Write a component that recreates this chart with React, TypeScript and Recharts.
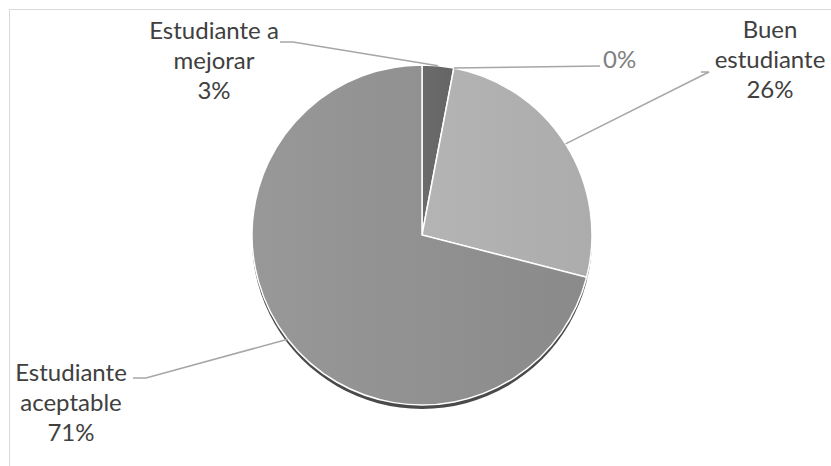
import { PieChart, Pie, Cell } from 'recharts';

// Distribución de estudiantes por categoría
const categories = ['Estudiante a mejorar', '', 'Buen estudiante', 'Estudiante aceptable'];
const values = [3, 0, 26, 71];
const nameLines = [['Estudiante a', 'mejorar'], [], ['Buen', 'estudiante'], ['Estudiante', 'aceptable']];

const sliceFills = ['url(#gDark)', '#8a8a8a', 'url(#gLight)', 'url(#gMid)'];

// where Excel placed each label (text centre / first baseline / leader start)
const labelLayout = [
  { x: 214, y: 39, anchor: 'middle', from: [280, 42], elbow: [293, 42], color: '#404040' },
  { x: 603, y: 68, anchor: 'start', from: [600, 66], elbow: [600, 66], color: '#7f7f7f' },
  { x: 770, y: 38, anchor: 'middle', from: [701, 72], elbow: [709, 72], color: '#404040' },
  { x: 71, y: 381, anchor: 'middle', from: [133, 378], elbow: [146, 378], color: '#404040' },
];

const data = categories.map((name, i) => ({ name, value: values[i] }));
const shadow = [{ name: 'shadow', value: 1 }];

const RAD = Math.PI / 180;
const FONT = 'Lato, "Open Sans", sans-serif';

function renderLabel(props: any) {
  const { cx, cy, midAngle, outerRadius, percent, index } = props;
  const l = labelLayout[index];
  const ex = cx + outerRadius * Math.cos(-midAngle * RAD);
  const ey = cy + outerRadius * Math.sin(-midAngle * RAD);
  const lines = [...nameLines[index], `${Math.round(percent * 100)}%`];
  return (
    <g key={`lbl-${index}`}>
      <polyline
        points={`${l.from[0]},${l.from[1]} ${l.elbow[0]},${l.elbow[1]} ${ex},${ey}`}
        fill="none"
        stroke="#a6a6a6"
        strokeWidth={1.5}
      />
      <text x={l.x} y={l.y} textAnchor={l.anchor} fill={l.color} fontSize={24} fontFamily={FONT}>
        {lines.map((t, j) => (
          <tspan key={j} x={l.x} dy={j === 0 ? 0 : 30}>{t}</tspan>
        ))}
      </text>
    </g>
  );
}

export default function App() {
  return (
    <div style={{ position: 'absolute', left: 0, top: 0, width: 831, height: 466, background: '#fff', overflow: 'hidden' }}>
      <div
        style={{
          position: 'absolute', left: 9, top: 9, width: 900, height: 500,
          borderTop: '1px solid #d9d9d9', borderLeft: '1px solid #d9d9d9',
        }}
      />
      <div style={{ position: 'absolute', left: 0, top: 0 }}>
        <PieChart width={831} height={466} margin={{ top: 0, right: 0, bottom: 0, left: 0 }}>
          <defs>
            <linearGradient id="gMid" x1="0" y1="0" x2="1" y2="0">
              <stop offset="0%" stopColor="#989898" />
              <stop offset="100%" stopColor="#8a8a8a" />
            </linearGradient>
            <linearGradient id="gLight" x1="0" y1="0" x2="1" y2="0">
              <stop offset="0%" stopColor="#b4b4b4" />
              <stop offset="100%" stopColor="#acacac" />
            </linearGradient>
            <linearGradient id="gDark" x1="0" y1="0" x2="1" y2="0">
              <stop offset="0%" stopColor="#6c6c6c" />
              <stop offset="100%" stopColor="#646464" />
            </linearGradient>
          </defs>
          <Pie
            data={shadow}
            dataKey="value"
            cx={422}
            cy={239}
            outerRadius={170}
            startAngle={90}
            endAngle={-270}
            fill="#4a4a4a"
            stroke="none"
            isAnimationActive={false}
          />
          <Pie
            data={data}
            dataKey="value"
            nameKey="name"
            cx={422}
            cy={235}
            outerRadius={170}
            startAngle={90}
            endAngle={-270}
            stroke="#ffffff"
            strokeWidth={1.5}
            label={renderLabel}
            labelLine={false}
            isAnimationActive={false}
          >
            {data.map((d, i) => (
              <Cell key={d.name + i} fill={sliceFills[i]} />
            ))}
          </Pie>
        </PieChart>
      </div>
    </div>
  );
}
